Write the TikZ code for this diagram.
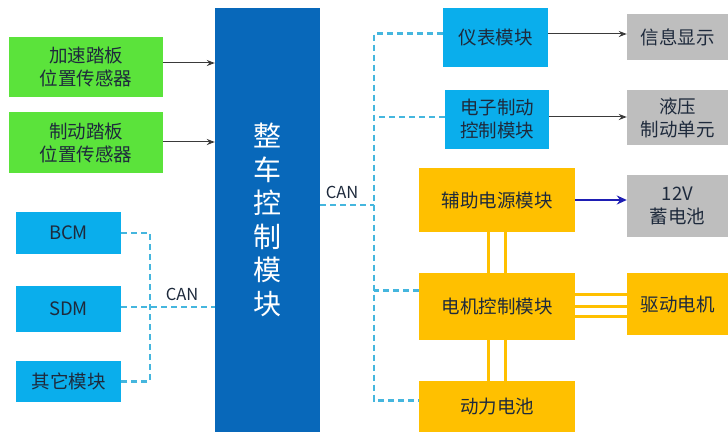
\documentclass[tikz,border=0pt]{standalone}
\usepackage{fontspec}
\setmainfont{Noto Sans CJK SC}
\usetikzlibrary{arrows.meta,calc}
\definecolor{cgreen}{HTML}{5BE33B}
\definecolor{clblue}{HTML}{0AAEEC}
\definecolor{cdblue}{HTML}{0868BA}
\definecolor{cgray}{HTML}{BEBEBE}
\definecolor{cyellow}{HTML}{FFC000}
\definecolor{ctext}{HTML}{1E2A3C}
\definecolor{ccan}{HTML}{45B6DE}
\definecolor{carrow}{HTML}{3A3A3A}
\definecolor{cbarrow}{HTML}{1E1EB4}
\tikzset{
  box/.style={inner sep=0pt, align=center, text=ctext, font=\fontsize{18.5}{23}\selectfont},
  gbox/.style={box, fill=cgreen},
  lbbox/.style={box, fill=clblue},
  ybox/.style={box, fill=cyellow},
  grbox/.style={box, fill=cgray},
  canline/.style={draw=ccan, line width=2.4pt, dash pattern=on 6pt off 4pt},
  thinarr/.style={draw=carrow, line width=1pt, -{Stealth[length=8pt,width=6pt]}},
  bluearr/.style={draw=cbarrow, line width=2.6pt, -{Stealth[length=10pt,width=9pt]}},
  pwr/.style={draw=cyellow, line width=3pt},
  canlabel/.style={text=ctext, font=\fontsize{16.5}{18}\selectfont, inner sep=0pt}
}
\begin{document}
\begin{tikzpicture}[x=1pt,y=-1pt]
\useasboundingbox (0,0) rectangle (728,435);
% left column
\node[gbox, minimum width=154pt, minimum height=60pt] (acc) at (86,67) {加速踏板\\位置传感器};
\node[gbox, minimum width=154pt, minimum height=61pt] (brk) at (86,142.5) {制动踏板\\位置传感器};
\node[lbbox, minimum width=105pt, minimum height=42pt] (bcm) at (68.5,233) {BCM};
\node[lbbox, minimum width=105pt, minimum height=46pt] (sdm) at (68.5,309) {SDM};
\node[lbbox, minimum width=105pt, minimum height=41pt] (oth) at (68.5,381.5) {其它模块};
% central VCU
\node[inner sep=0pt, fill=cdblue, minimum width=105pt, minimum height=424pt, text=white, align=center,
      font=\fontsize{28}{33.5}\selectfont] (vcu) at (267.5,220) {整\\车\\控\\制\\模\\块};
% right column
\node[lbbox, minimum width=105pt, minimum height=59pt] (ins) at (495.5,37.5) {仪表模块};
\node[lbbox, minimum width=104pt, minimum height=59pt] (ebc) at (497,119.5) {电子制动\\控制模块};
\node[ybox, minimum width=156pt, minimum height=64pt] (aux) at (497,200) {辅助电源模块};
\node[ybox, minimum width=156pt, minimum height=67pt] (mcu) at (497,306.5) {电机控制模块};
\node[ybox, minimum width=156pt, minimum height=51pt] (bat) at (497,406.5) {动力电池};
\node[grbox, minimum width=101pt, minimum height=46pt] (info) at (677.5,37) {信息显示};
\node[grbox, minimum width=101pt, minimum height=55pt] (hyd) at (677.5,117.5) {液压\\制动单元};
\node[grbox, minimum width=101pt, minimum height=62pt] (b12) at (677.5,206) {12V\\蓄电池};
\node[ybox, minimum width=101pt, minimum height=62pt] (mot) at (677.5,304) {驱动电机};
% helper coordinates
\coordinate (accout) at ([yshift=4pt]acc.east);
\coordinate (brkout) at ([yshift=0.5pt]brk.east);
\coordinate (sdmout) at ([yshift=2pt]sdm.east);
\coordinate (vcuout) at ([yshift=15pt]vcu.east);
\coordinate (insin) at ([yshift=4pt]ins.west);
\coordinate (ebcin) at ([yshift=2.5pt]ebc.west);
\coordinate (mcuin) at ([yshift=16pt]mcu.west);
\coordinate (batin) at ([yshift=6pt]bat.west);
\coordinate (insout) at ([yshift=3.5pt]ins.east);
\coordinate (ebcout) at ([yshift=2.5pt]ebc.east);
\coordinate (lbus) at (150,0);
\coordinate (rbus) at (374,0);
% sensor arrows
\draw[thinarr] (accout) -- (accout -| vcu.west);
\draw[thinarr] (brkout) -- (brkout -| vcu.west);
% left CAN
\draw[canline] (bcm.east) -- (lbus |- bcm.east) -- (lbus |- oth.east) -- (oth.east);
\draw[canline] (sdmout) -- (sdmout -| vcu.west);
\node[canlabel] (canl) at (182,294) {CAN};
% right CAN
\draw[canline] (vcuout) -- (rbus |- vcuout);
\draw[canline] (insin) -- (rbus |- insin) -- (rbus |- batin) -- (batin);
\draw[canline] (ebcin) -- (rbus |- ebcin);
\draw[canline] (mcuin) -- (rbus |- mcuin);
\node[canlabel] (canr) at (342,192) {CAN};
% output arrows
\draw[thinarr] (insout) -- (insout -| info.west);
\draw[thinarr] (ebcout) -- (ebcout -| hyd.west);
\draw[bluearr] (aux.east) -- (aux.east -| b12.west);
% power lines
\draw[pwr] ([xshift=-8.5pt]aux.south) -- ([xshift=-8.5pt]mcu.north);
\draw[pwr] ([xshift=8.5pt]aux.south) -- ([xshift=8.5pt]mcu.north);
\draw[pwr] ([xshift=-8.5pt]mcu.south) -- ([xshift=-8.5pt]bat.north);
\draw[pwr] ([xshift=8.5pt]mcu.south) -- ([xshift=8.5pt]bat.north);
\draw[pwr] ([yshift=11.5pt]mcu.east) -- ([yshift=11.5pt]mcu.east -| mot.west);
\draw[pwr] ([yshift=-0.5pt]mcu.east) -- ([yshift=-0.5pt]mcu.east -| mot.west);
\draw[pwr] ([yshift=-10.5pt]mcu.east) -- ([yshift=-10.5pt]mcu.east -| mot.west);
\end{tikzpicture}
\end{document}
